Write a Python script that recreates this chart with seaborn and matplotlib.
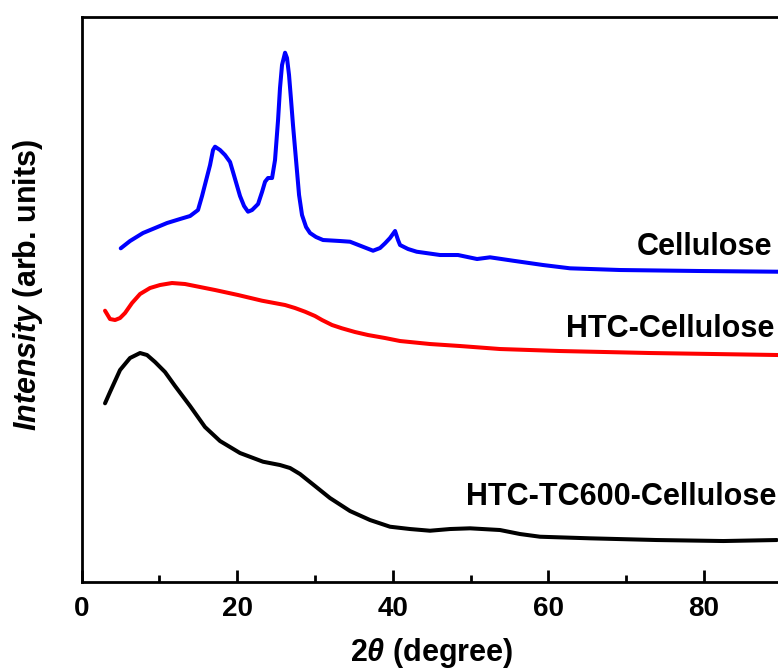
import numpy as np
import pandas as pd
import matplotlib
matplotlib.use("Agg")
import matplotlib.pyplot as plt
import seaborn as sns

# ---- data (intensity in arbitrary units) ----
cell_x = [5.04, 6.23, 7.90, 9.45, 10.99, 12.66, 13.95, 14.97, 15.49, 16.52, 16.90, 17.16,
          17.80, 18.44, 19.09, 19.47, 20.37, 20.89, 21.40, 21.92, 22.69, 23.20, 23.59, 23.97,
          24.49, 24.87, 25.26, 25.51, 25.77, 26.16, 26.41, 26.67, 26.93, 27.18, 27.57, 27.96,
          28.34, 28.86, 29.37, 30.14, 31.04, 33.23, 34.51, 37.47, 38.37, 39.01, 39.65, 40.30,
          40.68, 40.94, 41.97, 43.08, 46.08, 48.39, 50.84, 52.51, 55.46, 59.32, 62.79, 69.22,
          79.50, 89.52]
cell_y = [333.7, 341.0, 349.0, 354.0, 359.0, 363.0, 366.0, 372.0, 386.0, 417.0, 432.0, 435.3,
          432.0, 427.0, 420.0, 410.0, 386.0, 376.0, 370.3, 372.0, 378.0, 390.0, 400.3, 404.0,
          404.0, 422.0, 462.0, 494.0, 517.0, 529.3, 524.0, 507.0, 482.0, 457.0, 422.0, 387.0,
          367.0, 355.0, 349.0, 345.0, 342.0, 341.0, 340.3, 331.3, 334.0, 338.7, 344.0, 351.0,
          342.0, 337.0, 333.0, 330.3, 327.0, 327.0, 323.0, 324.7, 321.3, 317.0, 313.7, 312.0,
          311.0, 310.3]

htc_x = [3.02, 3.66, 4.31, 4.95, 5.59, 6.49, 7.52, 8.80, 10.09, 11.63, 13.30, 15.23, 17.16,
         20.12, 23.20, 26.16, 27.44, 28.73, 30.01, 30.91, 32.20, 33.48, 35.15, 36.82, 39.01,
         40.94, 44.79, 48.65, 53.79, 61.50, 73.07, 89.52]
htc_y = [271.3, 263.0, 262.0, 264.0, 269.0, 279.0, 288.0, 294.0, 297.0, 299.0, 298.0, 295.0,
         292.0, 287.0, 281.3, 277.0, 274.0, 270.3, 266.0, 262.0, 257.0, 253.7, 250.0, 247.0,
         244.0, 241.0, 238.0, 236.0, 233.0, 231.0, 229.0, 227.0]

tc_x = [3.02, 3.66, 4.95, 6.23, 7.52, 8.42, 9.45, 10.73, 12.02, 13.95, 15.87, 17.80, 20.37,
        23.33, 25.51, 26.80, 28.08, 30.01, 31.93, 34.51, 37.08, 39.65, 42.22, 44.79, 47.37,
        49.94, 53.79, 56.36, 58.93, 65.36, 73.93, 82.49, 89.36]
tc_y = [178.7, 190.0, 212.0, 224.0, 229.0, 227.0, 220.0, 210.0, 196.0, 176.0, 155.0, 141.0,
        129.0, 120.3, 117.0, 114.0, 108.0, 96.0, 84.0, 71.0, 62.0, 55.3, 53.0, 51.3, 53.0,
        53.7, 52.0, 48.0, 45.3, 43.7, 42.0, 41.0, 42.0]

names = ["Cellulose", "HTC-Cellulose", "HTC-TC600-Cellulose"]
colors = ["#0000FF", "#FF0000", "#000000"]
x_ticks = [0, 20, 40, 60, 80]

sns.set_style("ticks")
plt.rcParams["font.family"] = ["Liberation Sans", "DejaVu Sans"]
plt.rcParams["font.weight"] = "bold"
plt.rcParams["text.color"] = "black"
plt.rcParams["axes.labelcolor"] = "black"
plt.rcParams["xtick.color"] = "black"
plt.rcParams["mathtext.fontset"] = "custom"
plt.rcParams["mathtext.rm"] = "Liberation Sans:bold"
plt.rcParams["mathtext.it"] = "Liberation Sans:italic:bold"
plt.rcParams["mathtext.bf"] = "Liberation Sans:bold"

fig = plt.figure(figsize=(7.78, 6.71), dpi=100)
ax = fig.add_axes([0.1048, 0.1326, 0.90, 0.8428])

for (xs, ys), name, c in zip([(cell_x, cell_y), (htc_x, htc_y), (tc_x, tc_y)], names, colors):
    df = pd.DataFrame({"x": xs, "y": ys})
    sns.lineplot(data=df, x="x", y="y", ax=ax, color=c, lw=2.9, estimator=None, sort=False)

ax.set_xlim(0, 90)
ax.set_ylim(0, 565.5)
ax.set_xticks(x_ticks)
ax.set_xticks([10, 30, 50, 70, 90], minor=True)
ax.set_yticks([])
ax.tick_params(axis="x", which="major", direction="in", length=9, width=2, pad=10,
               labelsize=20, colors="black")
ax.tick_params(axis="x", which="minor", direction="in", length=5, width=2, colors="black")
for lab in ax.get_xticklabels():
    lab.set_fontweight("bold")
for s in ax.spines.values():
    s.set_linewidth(2)
    s.set_color("black")

ax.set_xlabel(r"$2\theta$ (degree)", fontsize=22, fontweight="bold", labelpad=10, color="black")
ax.set_ylabel(r"$Intensity$ (arb. units)", fontsize=22, fontweight="bold", color="black")
ax.yaxis.set_label_coords(-0.052, 0.525)

ax.text(88.8, 320, "Cellulose", ha="right", va="bottom", fontsize=22, fontweight="bold", color="black")
ax.text(89.1, 238, "HTC-Cellulose", ha="right", va="bottom", fontsize=22, fontweight="bold", color="black")
ax.text(89.3, 70, "HTC-TC600-Cellulose", ha="right", va="bottom", fontsize=22, fontweight="bold", color="black")

fig.savefig("out.png", dpi=100, facecolor="white")
